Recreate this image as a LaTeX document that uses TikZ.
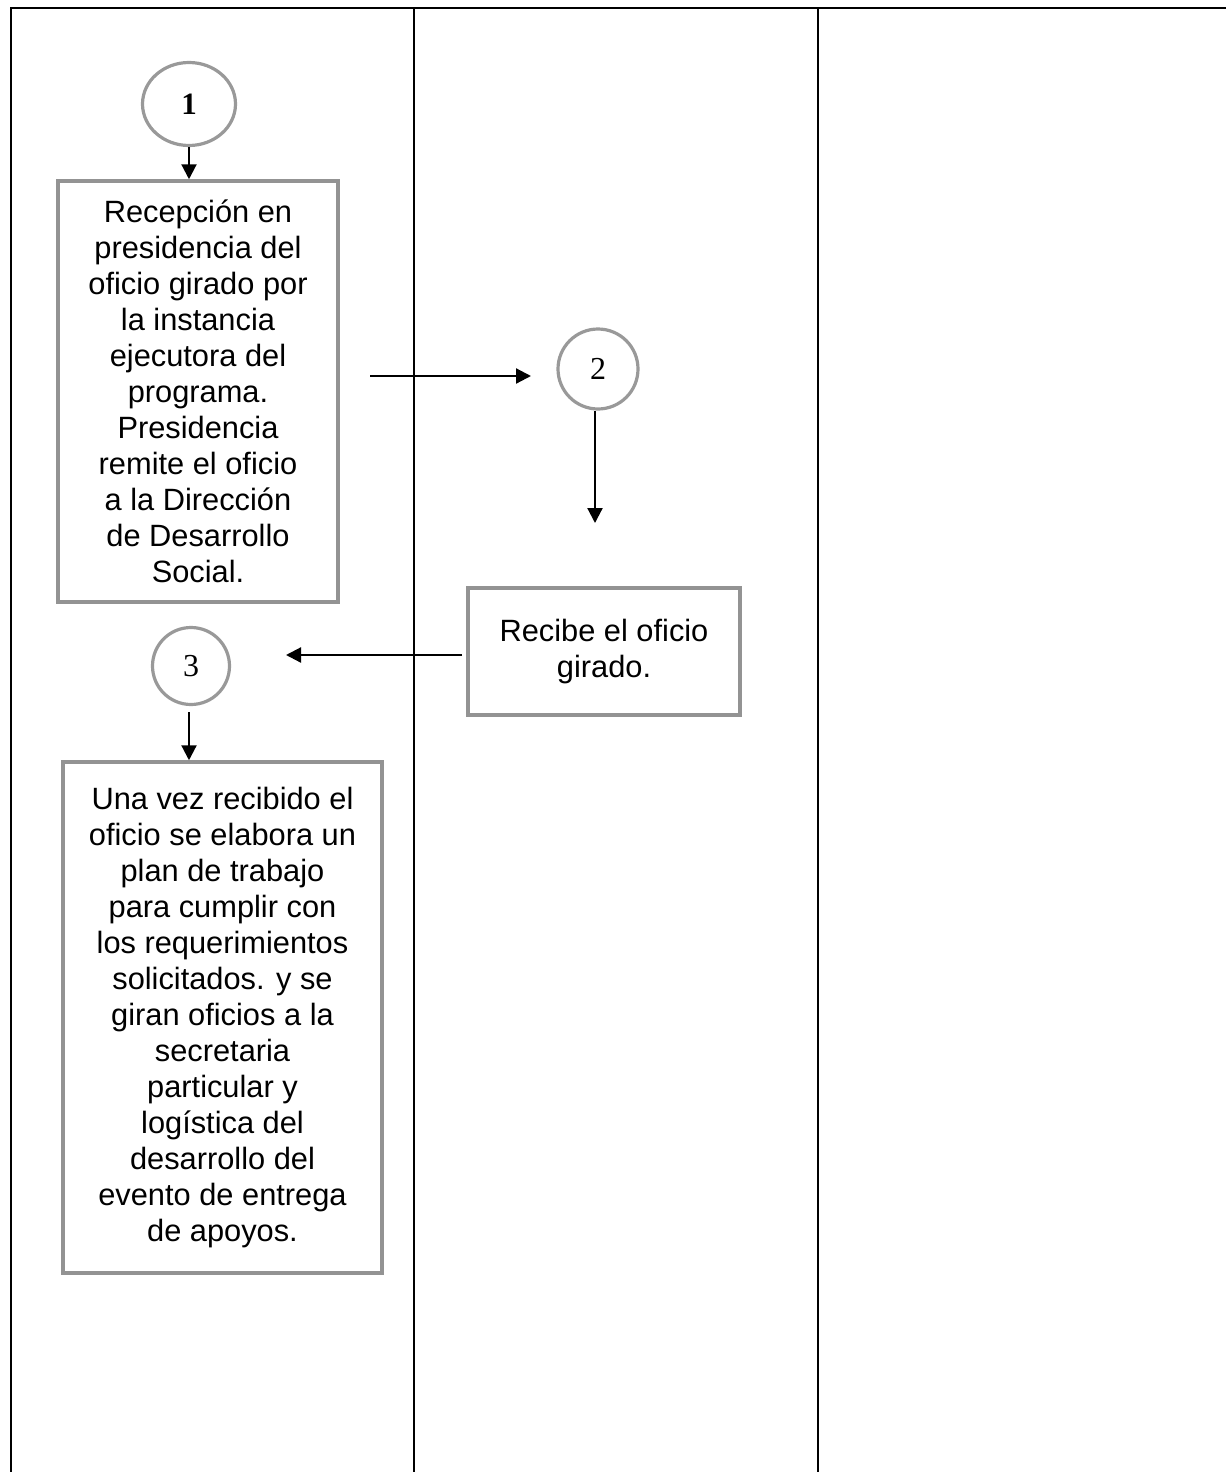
\documentclass[tikz,border=0pt]{standalone}
\usepackage{fontspec}
\setmainfont{Liberation Sans}
\newfontfamily\numfont{Liberation Serif}
\usetikzlibrary{arrows.meta,shapes.geometric}
\begin{document}
\begin{tikzpicture}[x=1pt,y=-1pt,
  frame/.style={line width=2.2pt,black},
  procbox/.style={draw=gray!85,line width=3.5pt,fill=white,align=center,inner sep=0pt,
    font=\fontsize{30.8}{36}\selectfont},
  conn/.style={draw=gray!80,line width=3.2pt,inner sep=0pt},
  flow/.style={line width=2.2pt,-{Triangle[length=15pt,width=15pt]}}]
\useasboundingbox (0,0) rectangle (1226,1472);
% swimlane frame
\draw[frame] (11,1472) -- (11,8) -- (1226,8);
\draw[frame] (414,8) -- (414,1472);
\draw[frame] (818,8) -- (818,1472);
% connectors (circles)
\node[conn,ellipse,minimum width=93pt,minimum height=83pt,font=\numfont\bfseries\fontsize{31}{36}\selectfont] (c1) at (189,104) {1};
\node[conn,circle,minimum size=80pt,font=\numfont\fontsize{32}{36}\selectfont] (c2) at (598,369) {2};
\node[conn,circle,minimum size=77pt,font=\numfont\fontsize{32}{36}\selectfont] (c3) at (191,666) {3};
% process boxes
\node[procbox,minimum width=280pt,minimum height=421pt] (b1) at (198,391.5)
  {Recepción en\\presidencia del\\oficio girado por\\la instancia\\ejecutora del\\programa.\\Presidencia\\remite el oficio\\a la Dirección\\de Desarrollo\\Social.};
\node[procbox,minimum width=272pt,minimum height=127pt] (b2) at (604,651.5)
  {Recibe el oficio\\girado.};
\node[procbox,minimum width=319pt,minimum height=511pt] (b3) at (222.5,1017.5)
  {Una vez recibido el\\oficio se elabora un\\plan de trabajo\\para cumplir con\\los requerimientos\\solicitados. y se\\giran oficios a la\\secretaria\\particular y\\logística del\\desarrollo del\\evento de entrega\\de apoyos.};
% free ends
\coordinate (a2s) at (370,376);
\coordinate (a2e) at (531,376);
\coordinate (a3e) at (595,523);
\coordinate (a4s) at (462,655);
\coordinate (a4e) at (286,655);
\coordinate (a5s) at (189,712);
% arrows
\draw[flow] (c1.south) -- (c1.south |- b1.north);
\draw[flow] (a2s) -- (a2e);
\draw[flow] (c2.south -| a3e) -- (a3e);
\draw[flow] (a4s) -- (a4e);
\draw[flow] (a5s) -- (a5s |- b3.north);
\end{tikzpicture}
\end{document}
